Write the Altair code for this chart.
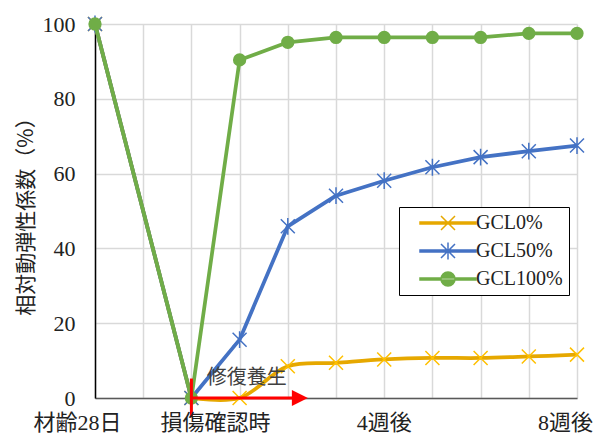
import altair as alt
import pandas as pd

# Measurement steps: 0 = age 28 days, 2 = damage confirmed, 3..10 = weeks 1..8 of repair curing
steps = [0, 2, 3, 4, 5, 6, 7, 8, 9, 10]
gcl0 = [100, 0, 0, 8.5, 9.4, 10.3, 10.7, 10.7, 11.1, 11.6]
gcl50 = [100, 0, 15.6, 45.9, 54.1, 58.1, 61.7, 64.4, 66.0, 67.5]
gcl100 = [100, 0, 90.4, 95.1, 96.4, 96.4, 96.4, 96.4, 97.5, 97.5]
series_names = ["GCL0%", "GCL50%", "GCL100%"]

tick_steps = [0, 2, 6, 10]
tick_labels = ["材齢28日", "損傷確認時", "4週後", "8週後"]
grid_steps = list(range(11))
y_ticks = [0, 20, 40, 60, 80, 100]

damage_step = 2
cure_end_step = 4.25
cure_label = "修復養生"

# styling
line_colors = ["#E6A800", "#4472C4", "#70AD47"]
marker_colors = ["#FFC000", "#4472C4", "#70AD47"]
label_dx = [-17.5, 24, 0, -11.5]
W, H = 482, 374
TEXT = "#222222"
GRID = "#D9D9D9"
MIXED_FONT = "Liberation Serif, Noto Sans CJK JP"

x_path = "M-1,-1L1,1M-1,1L1,-1"
star_path = "M-1,-1L1,1M-1,1L1,-1M0,-1.2L0,1.2"
bar = "M-4,-0.15H4V0.15H-4Z"
legend_paths = [
    bar + x_path,
    bar + star_path,
    bar + "M-1,0A1,1 0 1,0 1,0A1,1 0 1,0 -1,0Z",
]

frames = []
for name, vals in zip(series_names, [gcl0, gcl50, gcl100]):
    frames.append(pd.DataFrame({"step": steps, "value": vals, "series": name}))
df = pd.concat(frames, ignore_index=True)

x_axis = alt.Axis(values=grid_steps, labels=False, ticks=False, title=None,
                  domainColor="#595959", domainWidth=1.5,
                  gridColor=GRID, gridWidth=1.5)
y_axis = alt.Axis(values=y_ticks, title="相対動弾性係数（%）",
                  titleFont="Noto Sans CJK JP", titleFontSize=21,
                  titleFontWeight="normal", titleColor=TEXT, titlePadding=6,
                  labelFont="Liberation Serif", labelFontSize=22,
                  labelColor=TEXT, labelPadding=20, ticks=False,
                  domainColor="black", domainWidth=1.5,
                  gridColor=GRID, gridWidth=1.5)
x_scale = alt.Scale(domain=[0, 10], nice=False, zero=False)
y_scale = alt.Scale(domain=[0, 100], nice=False)


def X(field):
    return alt.X(field, type="quantitative", scale=x_scale, axis=x_axis)


def Y(field):
    return alt.Y(field, type="quantitative", scale=y_scale, axis=y_axis)


layers = []
marker_marks = [
    dict(shape=x_path, size=196, strokeWidth=1.5, filled=False),
    dict(shape=star_path, size=196, strokeWidth=1.5, filled=False),
    dict(shape="circle", size=177, filled=True),
]
for name, lc, mc, mk in zip(series_names, line_colors, marker_colors, marker_marks):
    sub = df[df["series"] == name]
    pre = sub[sub["step"] <= damage_step]
    post = sub[sub["step"] >= damage_step]
    interp = "catmull-rom" if name == "GCL0%" else "linear"
    layers.append(alt.Chart(pre).mark_line(color=lc, strokeWidth=3.75, strokeJoin="round")
                  .encode(x=X("step"), y=Y("value")))
    layers.append(alt.Chart(post).mark_line(color=lc, strokeWidth=3.75, strokeJoin="round",
                                            interpolate=interp)
                  .encode(x=X("step"), y=Y("value")))
    layers.append(alt.Chart(sub).mark_point(color=mc, opacity=1, **mk)
                  .encode(x=X("step"), y=Y("value")))

# legend built from the series scales only (no marks drawn)
leg = alt.Legend(title=None, orient="none", legendX=304, legendY=183,
                 fillColor="white", strokeColor="black", padding=6,
                 rowPadding=6, symbolOffset=33, labelOffset=18,
                 symbolSize=196, symbolStrokeWidth=1.5,
                 labelFont="Liberation Serif", labelFontSize=20,
                 labelColor=TEXT, labelLimit=300)
legend_layer = alt.Chart(df).transform_filter("false").mark_point(
    filled=True, size=196, strokeWidth=1.5, opacity=1
).encode(
    x=X("step"), y=Y("value"),
    fill=alt.Fill("series:N", scale=alt.Scale(domain=series_names, range=line_colors), legend=leg),
    stroke=alt.Stroke("series:N", scale=alt.Scale(domain=series_names, range=line_colors), legend=leg),
    shape=alt.Shape("series:N", scale=alt.Scale(domain=series_names, range=legend_paths), legend=leg),
)
layers.append(legend_layer)

# repair-curing arrow
ann = pd.DataFrame({"start": [damage_step], "end": [cure_end_step],
                    "zero": [0], "lo": [-5.2], "hi": [5.2], "text": [cure_label],
                    "text_x": [2.32], "text_y": [5.3]})
red = "#FF0000"
layers.append(alt.Chart(ann).mark_rule(color=red, strokeWidth=3)
              .encode(x=X("start"), y=Y("lo"), y2="hi"))
layers.append(alt.Chart(ann).mark_rule(color=red, strokeWidth=3)
              .encode(x=X("start"), x2="end", y=Y("zero")))
layers.append(alt.Chart(ann).mark_point(shape="M-1,-1L1,0L-1,1Z", size=256, filled=True,
                                        color=red, opacity=1)
              .encode(x=X("end"), y=Y("zero")))
layers.append(alt.Chart(ann).mark_text(align="left", baseline="middle", font="Noto Sans CJK JP",
                                       fontSize=20, color="#404040")
              .encode(x=X("text_x"), y=Y("text_y"), text="text"))

# category labels under the x axis
ticks_df = pd.DataFrame({"step": tick_steps, "label": tick_labels})
for lab, dx in zip(tick_labels, label_dx):
    layers.append(alt.Chart(ticks_df[ticks_df["label"] == lab])
                  .mark_text(baseline="middle", align="center", dx=dx, dy=25,
                             font=MIXED_FONT, fontSize=22, color=TEXT)
                  .encode(x=X("step"), y=alt.datum(0), text="label"))

chart = alt.layer(*layers).properties(
    width=W, height=H,
    autosize=alt.AutoSizeParams(type="none"),
    padding={"left": 95, "top": 24, "right": 21, "bottom": 37},
).configure_view(stroke="transparent")

chart.save("out.html", embed_options={"renderer": "svg", "actions": False})
